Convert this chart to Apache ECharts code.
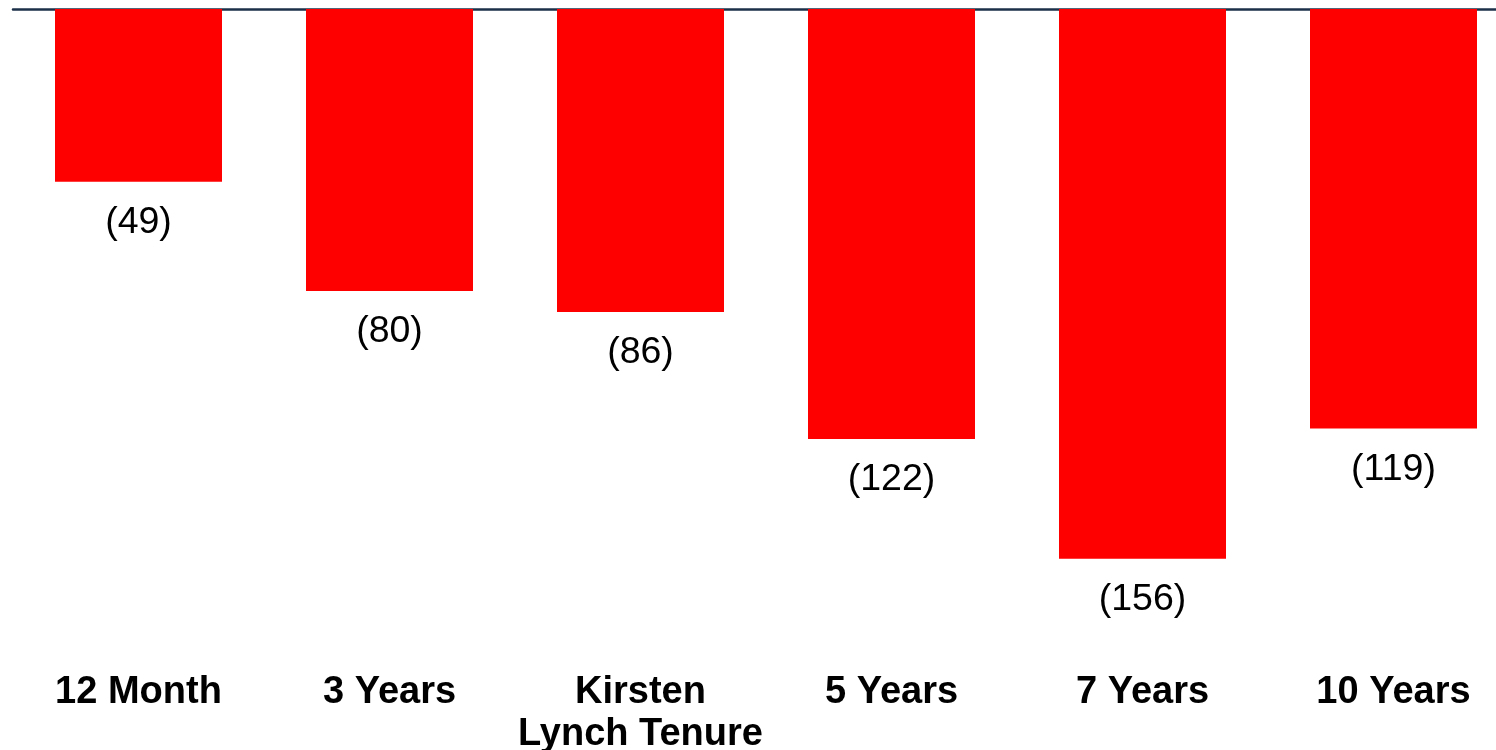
<!DOCTYPE html>
<html>
<head>
<meta charset="utf-8">
<script src="https://cdn.jsdelivr.net/npm/echarts@6/dist/echarts.min.js"></script>
<style>
html,body{margin:0;padding:0;background:#fff;}
#chart{width:1496px;height:750px;}
</style>
</head>
<body>
<div id="chart"></div>
<script>
const categories = ['12 Month', '3 Years', 'Kirsten\nLynch Tenure', '5 Years', '7 Years', '10 Years'];
const values = [-49, -80, -86, -122, -156, -119];

const chart = echarts.init(document.getElementById('chart'), null, {renderer: 'canvas'});
chart.setOption({
  animation: false,
  backgroundColor: '#ffffff',
  grid: {left: 13, top: 9, width: 1506, height: 652, containLabel: false, outerBoundsMode: 'none'},
  xAxis: [
    {
      type: 'category', data: categories, position: 'bottom',
      axisLine: {show: false}, axisTick: {show: false},
      axisLabel: {
        interval: 0, margin: 11, color: '#000', fontFamily: 'Liberation Sans',
        fontWeight: 'bold', fontSize: 38, lineHeight: 42
      }
    },
    {
      type: 'category', data: categories, position: 'top',
      axisLine: {show: true, onZero: false, lineStyle: {color: '#1c3049', width: 2.5}},
      axisTick: {show: false}, axisLabel: {show: false}
    }
  ],
  yAxis: {
    type: 'value', min: -185, max: 0, show: false, splitLine: {show: false}
  },
  series: [{
    type: 'bar', data: values, barWidth: 167, xAxisIndex: 0,
    itemStyle: {color: '#ff0000'},
    label: {
      show: true, position: 'bottom', distance: 22, color: '#000',
      fontFamily: 'Liberation Sans', fontSize: 37.5,
      formatter: p => '(' + Math.abs(p.value) + ')'
    }
  }]
});
</script>
</body>
</html>
